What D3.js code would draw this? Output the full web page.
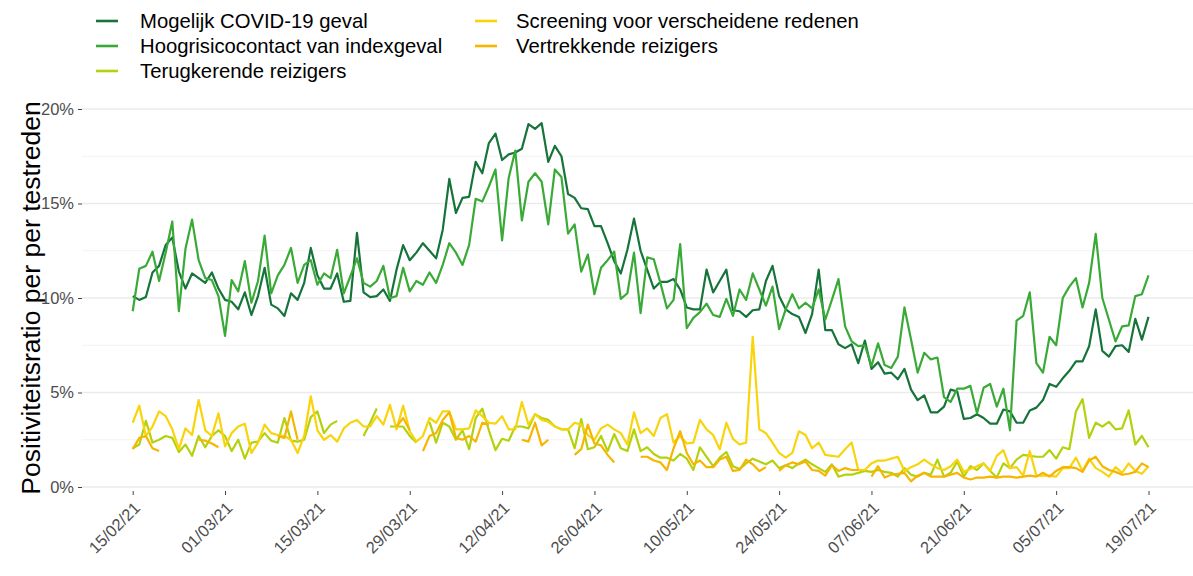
<!DOCTYPE html>
<html>
<head>
<meta charset="utf-8">
<script src="https://cdn.jsdelivr.net/npm/d3@7"></script>
<style>
  body { margin: 0; background: #fff; }
  svg { display: block; font-family: "Liberation Sans", Arial, sans-serif; }
</style>
</head>
<body>
<div id="chart"></div>
<script>
// dagelijkse reeksen vanaf 15/02/21 t/m 19/07/21 (155 dagen), in %
const startDate = new Date(2021, 1, 15);
const tickLabels = ["15/02/21", "01/03/21", "15/03/21", "29/03/21", "12/04/21", "26/04/21",
  "10/05/21", "24/05/21", "07/06/21", "21/06/21", "05/07/21", "19/07/21"];
const yTicks = [0, 5, 10, 15, 20];
const yMinor = [2.5, 7.5, 12.5, 17.5];

const seriesNames = ["Mogelijk COVID-19 geval", "Hoogrisicocontact van indexgeval",
  "Terugkerende reizigers", "Screening voor verscheidene redenen", "Vertrekkende reizigers"];
const seriesColors = ["#16743a", "#3aaa37", "#b3d10c", "#f8d40c", "#f7b500"];

const mogelijk = [
  10.1, 9.9, 10.05, 11.35, 11.7, 12.8, 13.2, 11.4, 10.5, 11.3, 11.05, 10.8, 11.35, 10.5, 9.9, 9.8, 9.4, 10.3, 9.1, 10.1, 11.6, 9.65, 9.45, 9.05, 10.25, 9.9,
  10.8, 12.65, 11.2, 10.5, 10.5, 11.3, 9.8, 9.85, 13.45, 10.3, 10.05, 10.1, 10.45, 9.85, 11.5, 12.8, 12.0, 12.4, 12.9, 12.5, 12.1, 13.6, 16.3, 14.5, 15.3, 15.35,
  17.2, 16.6, 18.2, 18.7, 17.3, 17.6, 17.7, 17.9, 19.2, 18.95, 19.25, 17.2, 18.05, 17.5, 15.5, 15.3, 14.75, 14.7, 13.8, 13.8, 12.9, 11.95, 11.3, 12.55, 14.2, 12.5,
  11.5, 10.5, 10.85, 10.85, 11.0, 10.45, 9.5, 9.4, 9.4, 11.5, 10.3, 10.9, 11.5, 9.35, 9.3, 9.0, 9.35, 9.4, 10.9, 11.7, 10.1, 9.4, 9.15, 9.0, 8.15,
  9.15, 11.5, 8.3, 8.3, 7.55, 7.35, 7.55, 6.55, 7.75, 6.25, 6.6, 6.0, 6.05, 5.7, 6.25, 5.15, 4.6, 4.85, 3.95, 3.95, 4.25, 5.15, 5.05, 3.6, 3.65, 3.85,
  3.65, 3.35, 3.35, 4.1, 4.0, 3.4, 3.4, 4.05, 4.2, 4.6, 5.45, 5.3, 5.75, 6.15, 6.65, 6.65, 7.45, 9.4, 7.2, 6.9, 7.45, 7.5, 7.15, 8.9, 7.8, 9.0
];
const hoogrisico = [
  9.3, 11.55, 11.7, 12.45, 10.9, 12.4, 14.05, 9.3, 12.6, 14.15, 12.0, 11.05, 10.95, 10.1, 8.0, 10.95, 10.35, 11.95, 9.75, 10.9, 13.3, 10.25, 11.2, 11.75, 12.65, 10.8,
  11.75, 12.0, 10.7, 11.3, 11.05, 12.55, 10.25, 11.15, 12.1, 10.8, 10.6, 10.9, 11.7, 10.0, 10.1, 11.6, 10.35, 10.9, 10.7, 11.35, 10.8, 11.75, 12.9, 12.4, 11.75, 12.8,
  15.25, 15.1, 15.9, 16.8, 13.05, 16.35, 17.8, 14.1, 16.15, 16.6, 16.15, 13.9, 16.8, 16.4, 13.4, 13.9, 11.4, 12.3, 10.2, 11.6, 12.0, 12.45, 9.95, 10.25, 12.4, 9.2,
  12.15, 12.05, 10.8, 9.45, 9.9, 12.85, 8.4, 8.95, 9.25, 9.7, 9.1, 9.0, 9.95, 9.05, 10.45, 9.9, 11.3, 10.45, 9.6, 10.6, 8.35, 9.4, 10.2, 9.45, 9.75,
  9.45, 10.45, 8.85, 9.9, 11.0, 8.5, 7.7, 7.45, 7.5, 6.4, 7.6, 6.45, 6.3, 6.9, 9.5, 7.8, 6.05, 7.1, 6.75, 6.85, 4.75, 4.5, 5.2, 5.2, 5.35, 3.9,
  5.25, 5.45, 4.25, 5.2, 3.0, 8.8, 9.05, 10.3, 6.55, 6.05, 7.95, 7.5, 10.0, 10.6, 11.05, 9.5, 10.8, 13.4, 10.0, 8.85, 7.7, 8.5, 8.55, 10.1, 10.2, 11.2
];
const terugkerend = [
  2.05, 2.25, 3.5, 2.35, 2.5, 2.7, 2.6, 1.85, 2.25, 1.65, 2.7, 2.1, 2.7, 3.0, 2.7, 1.9, 2.5, 1.5, 2.35, 2.4, 2.85, 2.45, 2.35, 3.65, 2.45, 2.4,
  2.5, 3.7, 4.0, 2.85, 3.3, 3.5, null, null, null, 2.7, 3.4, 4.15, null, 3.2, 3.2, 3.2, 2.7, 2.35, null, 3.45, 2.35, 3.4, 3.2, 2.5, 3.0, 2.0,
  3.65, 4.15, 3.0, 1.95, 2.55, 2.45, 3.2, 3.2, 3.1, 3.85, 3.65, 3.55, 3.2, 3.05, 3.05, 2.05, 3.6, 2.0, 2.1, 2.7, 1.9, 2.8, 2.05, 1.9, 3.05, 1.9,
  2.1, 1.75, 1.55, 1.55, 1.4, 1.75, 1.5, 0.9, 2.1, 1.6, 1.1, 1.55, 1.85, 1.1, 0.95, 1.25, 1.5, 1.35, 1.2, 1.4, 1.0, 1.15, 1.0, 1.25, 1.45,
  1.2, 1.0, 0.8, 1.2, 0.55, 0.65, 0.65, 0.75, 0.85, 0.8, 0.9, 0.8, 0.75, 0.55, 1.0, 0.65, 0.55, 0.75, 0.65, 1.45, 0.55, 0.75, 1.35, 0.55, 1.1, 0.9,
  1.25, 0.85, 0.5, 1.25, 1.0, 1.45, 1.7, 1.65, 1.6, 1.6, 1.95, 1.5, 2.1, 2.0, 4.0, 4.65, 2.6, 3.4, 3.2, 3.45, 3.05, 3.1, 4.05, 2.25, 2.7, 2.1
];
const screening = [
  3.4, 4.3, 2.7, 3.2, 4.0, 3.75, 3.05, 2.0, 3.1, 2.75, 4.6, 3.0, 2.7, 3.9, 2.15, 2.85, 3.2, 3.35, 1.8, 2.35, 3.3, 2.85, 2.75, 2.7, 2.5, 1.8,
  2.7, 4.8, 3.0, 2.5, 2.75, 2.4, 3.1, 3.4, 3.55, 3.2, 3.2, 3.75, 3.3, 4.35, 3.05, 4.3, 2.95, 2.4, 2.7, 3.65, 3.4, 4.0, 4.0, 3.05, 3.05, 3.1,
  4.05, 3.75, 3.4, 3.35, 3.75, 3.05, 3.05, 4.5, 3.3, 3.85, 3.55, 3.45, 3.2, 3.05, 3.05, 3.4, 3.3, 2.75, 2.5, 3.1, 3.3, 3.05, 2.85, 2.25, 3.95, 2.85,
  3.1, 2.7, 3.65, 3.85, 2.35, 2.7, 2.3, 2.35, 3.55, 3.05, 2.75, 2.0, 3.4, 2.55, 2.25, 2.35, 7.95, 3.05, 2.85, 2.35, 1.8, 1.55, 1.8, 2.95, 2.75,
  2.05, 2.35, 1.7, 1.65, 1.6, 2.0, 2.35, 0.9, 0.9, 1.25, 1.4, 1.4, 1.5, 1.6, 0.85, 1.05, 1.2, 1.45, 1.2, 1.0, 0.9, 1.1, 1.45, 0.8, 0.95, 1.1,
  1.25, 0.85, 1.65, 1.95, 1.0, 1.05, 0.6, 1.9, 0.6, 0.6, 0.6, 0.55, 1.0, 1.0, 1.55, 0.85, 1.5, 1.0, 0.8, 0.55, 1.05, 0.75, 1.25, 0.85, 0.7, 1.1
];
const vertrekkend = [
  2.0, 2.6, 2.7, 2.05, 1.9, null, null, null, null, null, 2.5, 2.45, 2.3, 2.1, null, null, null, null, null, null, null, null, 2.7, 2.6, 4.0, 2.5,
  null, null, null, null, null, null, null, null, null, null, null, null, null, null, 3.2, 3.65, 3.0, null, 1.9, 2.7, 2.85, 3.55, 3.95, 2.6, 2.5, 2.7,
  2.4, 3.4, 3.3, null, null, null, null, 2.5, 2.4, 3.4, 2.2, 2.5, null, null, null, 1.7, 2.0, 3.3, 2.3, 2.2, 1.7, 1.3, null, null, null, 1.6,
  1.6, 1.4, 1.3, 0.9, 2.05, 2.95, 1.8, 1.2, 1.4, 1.05, 1.05, 1.45, 1.6, 0.85, 0.9, 1.45, 1.2, 0.85, 1.05, null, 0.85, 1.15, 1.3, 1.2, 1.35,
  0.9, 0.85, 0.6, 1.15, 0.85, 1.0, 0.9, 0.9, null, 0.55, 1.1, 0.5, 0.65, 0.7, 0.75, 0.3, 0.6, 0.75, 0.55, 0.55, 0.55, 0.65, 0.75, 0.5, 0.4, 0.5,
  0.5, 0.55, 0.5, 0.55, 0.55, 0.5, 0.55, 0.6, 0.55, 0.75, 0.55, 0.85, 1.05, 1.05, 1.0, 0.8, 1.4, 1.6, 1.1, 0.9, 0.8, 0.65, 0.7, 0.8, 1.25, 1.05
];

const allSeries = [mogelijk, hoogrisico, terugkerend, screening, vertrekkend];

const W = 1193, H = 576;
const svg = d3.select("#chart").append("svg").attr("width", W).attr("height", H);

const parseLabel = d3.timeParse("%d/%m/%y");
const dates = mogelijk.map((_, i) => d3.timeDay.offset(startDate, i));

const x = d3.scaleTime().domain([startDate, parseLabel("19/07/21")]).range([132.7, 1148.5]);
const y = d3.scaleLinear().domain([0, 20]).range([487, 109]);

const panelLeft = 82, panelRight = W;
const tickFont = "16.5px";

// rasterlijnen
svg.append("g").selectAll("line").data(yMinor).join("line")
  .attr("x1", panelLeft).attr("x2", panelRight)
  .attr("y1", (d) => y(d)).attr("y2", (d) => y(d))
  .attr("stroke", "#f0f0f0").attr("stroke-width", 0.8);
svg.append("g").selectAll("line").data(yTicks).join("line")
  .attr("x1", panelLeft).attr("x2", panelRight)
  .attr("y1", (d) => y(d)).attr("y2", (d) => y(d))
  .attr("stroke", "#ebebeb").attr("stroke-width", 1.3);

// y-as
const yAxis = svg.append("g").attr("transform", `translate(${panelLeft},0)`)
  .call(d3.axisLeft(y).tickValues(yTicks).tickSize(4).tickPadding(4).tickFormat((d) => d + "%"));
yAxis.select(".domain").remove();
yAxis.selectAll("line").attr("stroke", "#444").attr("stroke-width", 1);
yAxis.selectAll("text").attr("fill", "#4d4d4d").style("font-size", tickFont)
  .style("font-family", "'Liberation Sans', Arial, sans-serif");

// x-as
const xAxis = svg.append("g").attr("transform", `translate(0,${y(0) + 4})`)
  .call(d3.axisBottom(x).tickValues(tickLabels.map(parseLabel)).tickSize(4).tickFormat(d3.timeFormat("%d/%m/%y")));
xAxis.select(".domain").remove();
xAxis.selectAll("line").attr("stroke", "#444").attr("stroke-width", 1);
xAxis.selectAll("text")
  .attr("fill", "#4d4d4d").style("font-size", tickFont)
  .style("font-family", "'Liberation Sans', Arial, sans-serif")
  .attr("text-anchor", "end")
  .attr("dy", null).attr("y", 0).attr("x", 0)
  .attr("transform", "translate(8,18) rotate(-45)");

// as-titel
svg.append("text")
  .attr("transform", `translate(40,${(y(0) + y(20)) / 2}) rotate(-90)`)
  .attr("text-anchor", "middle")
  .style("font-size", "26.5px").attr("fill", "#000")
  .text("Positiviteitsratio per per testreden");

// lijnen
const line = d3.line()
  .defined((d) => d.v !== null)
  .x((d) => x(d.date))
  .y((d) => y(d.v));

allSeries.forEach((vals, k) => {
  const pts = vals.map((v, i) => ({ date: dates[i], v }));
  svg.append("path")
    .datum(pts)
    .attr("fill", "none")
    .attr("stroke", seriesColors[k])
    .attr("stroke-width", 2.2)
    .attr("stroke-linejoin", "round")
    .attr("d", line);
});

// legenda (twee kolommen)
const legendPos = [
  { x: 96, y: 21, tx: 44 }, { x: 96, y: 46, tx: 44 }, { x: 96, y: 71, tx: 44 },
  { x: 475, y: 21, tx: 41 }, { x: 475, y: 46, tx: 41 }
];
seriesNames.forEach((name, k) => {
  const p = legendPos[k];
  const g = svg.append("g").attr("transform", `translate(${p.x},${p.y})`);
  g.append("line").attr("x1", 0).attr("x2", 22).attr("y1", 0).attr("y2", 0)
    .attr("stroke", seriesColors[k]).attr("stroke-width", 2.6);
  g.append("text").attr("x", p.tx).attr("y", 0).attr("dy", "0.35em")
    .style("font-size", "20.3px").attr("fill", "#000").text(name);
});
</script>
</body>
</html>
